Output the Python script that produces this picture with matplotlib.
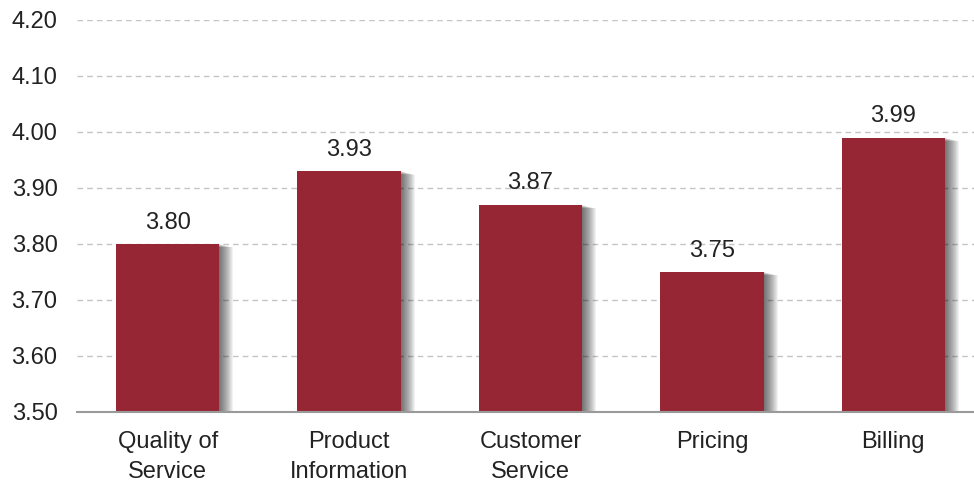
import matplotlib
matplotlib.use("Agg")
import matplotlib.pyplot as plt
import matplotlib.patheffects as pe

categories = ["Quality of\nService", "Product\nInformation", "Customer\nService", "Pricing", "Billing"]
scores = [3.80, 3.93, 3.87, 3.75, 3.99]
yticks = [3.50, 3.60, 3.70, 3.80, 3.90, 4.00, 4.10, 4.20]

BAR_COLOR = "#962634"
TEXT_COLOR = "#222222"
FS = 17

plt.rcParams["font.family"] = ["Liberation Sans", "DejaVu Sans"]

fig = plt.figure(figsize=(9.74, 4.82), dpi=100)
ax = fig.add_axes([77 / 974, 70 / 482, 907 / 974, 392 / 482])

x = range(len(categories))
# fake blurred drop shadow: stack faint offset copies (offsets in points)
shadow = [pe.SimplePatchShadow(offset=(o / 1.39, -o * 0.25 / 1.39), shadow_rgbFace="black", alpha=0.05)
          for o in range(14, 0, -1)]
bars = ax.bar(x, scores, width=0.57, color=BAR_COLOR, zorder=3,
              path_effects=shadow + [pe.Normal()])

for b, v in zip(bars, scores):
    ax.annotate(f"{v:.2f}", (b.get_x() + b.get_width() / 2, v),
                xytext=(0, 7.5), textcoords="offset points",
                ha="center", va="bottom", fontsize=FS, color=TEXT_COLOR)

ax.set_xlim(-0.5, len(categories) - 0.5)
ax.set_ylim(3.50, 4.20)
ax.set_yticks(yticks)
ax.set_yticklabels([f"{t:.2f}" for t in yticks])
ax.set_xticks(list(x))
ax.set_xticklabels(categories, linespacing=1.42)

ax.tick_params(axis="y", length=0, pad=14, labelsize=FS, labelcolor=TEXT_COLOR)
ax.tick_params(axis="x", length=0, pad=14, labelsize=FS, labelcolor=TEXT_COLOR)

ax.grid(axis="y", linestyle=(0, (4, 3)), color="#c4c4c4", linewidth=1.0, zorder=0)
for s in ("top", "right", "left"):
    ax.spines[s].set_visible(False)
ax.spines["bottom"].set_color("#9a9a9a")
ax.spines["bottom"].set_linewidth(1.5)
ax.spines["bottom"].set_zorder(4)

fig.savefig("out.png", dpi=100)
